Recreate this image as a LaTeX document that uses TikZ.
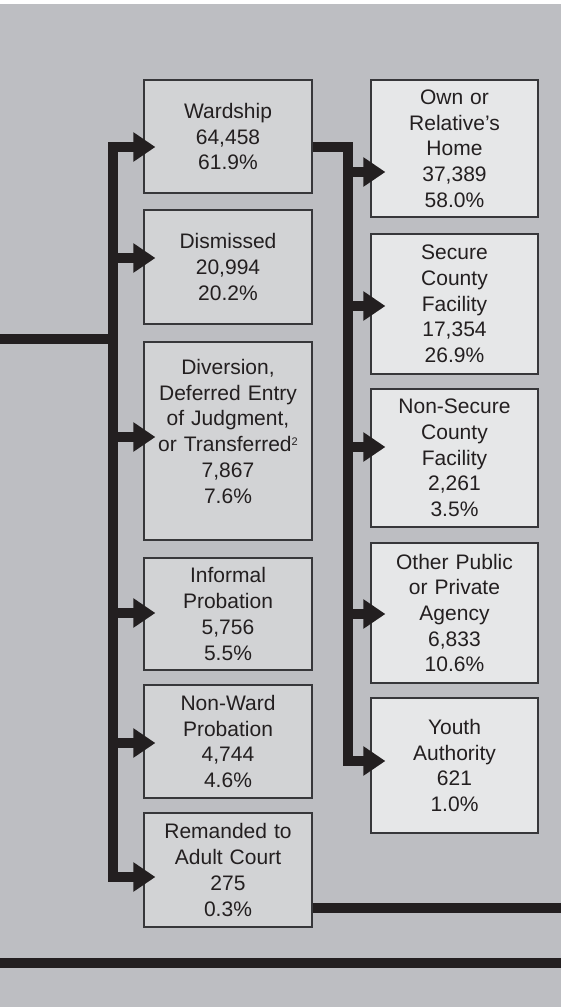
\documentclass[tikz,border=0pt]{standalone}
\usepackage{fontspec}
\setmainfont{Liberation Sans}
\usetikzlibrary{arrows.meta}
\definecolor{bggray}{RGB}{189,190,194}
\definecolor{boxgray}{RGB}{210,211,213}
\definecolor{boxlight}{RGB}{230,231,232}
\definecolor{inkblack}{RGB}{35,31,32}
\definecolor{rimgray}{RGB}{55,55,58}
\begin{document}
\begin{tikzpicture}[x=1pt, y=-1pt,
        outcome/.style={draw=rimgray, line width=1.2pt, fill=boxgray, text=inkblack, align=center,
            inner sep=0pt, text width=160pt, minimum width=168pt, font=\fontsize{21}{25.7}\selectfont},
        placement/.style={outcome, fill=boxlight, minimum width=167pt},
        bar/.style={draw=inkblack, line width=10.5pt},
        flow/.style={bar, -{Triangle[length=22pt, width=28pt]}}]
        \useasboundingbox (0,0) rectangle (561,1007);
        \fill[white] (0,0) rectangle (561,1007);
        \fill[bggray] (0,4) rectangle (561,1007);
        \node[outcome, minimum height=113pt] (ward) at (228,136.5) {Wardship\\64,458\\61.9\%};
        \node[outcome, minimum height=114pt] (dism) at (228,267) {Dismissed\\20,994\\20.2\%};
        \node[outcome, minimum height=198pt] (div) at (228,441) {Diversion,\\Deferred Entry\\of Judgment,\\or Transferred\raisebox{6pt}{\fontsize{11}{11}\selectfont 2}\\7,867\\7.6\%\\[-6pt]\mbox{}};
        \node[outcome, minimum height=112pt] (inf) at (228,614) {Informal\\Probation\\5,756\\5.5\%};
        \node[outcome, minimum height=113pt] (nonw) at (228,741.5) {Non-Ward\\Probation\\4,744\\4.6\%};
        \node[outcome, minimum height=114pt] (rem) at (228,870) {Remanded to\\Adult Court\\275\\0.3\%};
        \node[placement, minimum height=137pt] (home) at (454.5,148.5) {Own or\\Relative’s\\Home\\37,389\\58.0\%};
        \node[placement, minimum height=140pt] (sec) at (454.5,304) {Secure\\County\\Facility\\17,354\\26.9\%};
        \node[placement, minimum height=138pt] (nsec) at (454.5,458) {Non-Secure\\County\\Facility\\2,261\\3.5\%};
        \node[placement, minimum height=140pt] (oth) at (454.5,613) {Other Public\\or Private\\Agency\\6,833\\10.6\%};
        \node[placement, minimum height=135pt] (ya) at (454.5,765.5) {Youth\\Authority\\621\\1.0\%};
        \coordinate (inlet) at (0,339);
        \coordinate (split) at (113,339);
        \coordinate (fork) at (348,147);
        \coordinate (outlet) at (561,908);
        \coordinate (baseL) at (0,963);
        \coordinate (baseR) at (561,963);
        \coordinate (wardtip) at ([shift={(12,10.5)}]ward.west);
        \coordinate (dismtip) at ([shift={(12,-9)}]dism.west);
        \coordinate (divtip) at ([shift={(12,-4)}]div.west);
        \coordinate (inftip) at ([shift={(12,-1)}]inf.west);
        \coordinate (nonwtip) at ([shift={(12,1.5)}]nonw.west);
        \coordinate (remtip) at ([shift={(12,7)}]rem.west);
        \coordinate (hometip) at ([shift={(15,23.5)}]home.west);
        \coordinate (sectip) at ([shift={(15,2)}]sec.west);
        \coordinate (nsectip) at ([shift={(15,-11)}]nsec.west);
        \coordinate (othtip) at ([shift={(15,1)}]oth.west);
        \coordinate (yatip) at ([shift={(15,-4.5)}]ya.west);
        \coordinate (wardout) at ([shift={(0,10.5)}]ward.east);
        \coordinate (remout) at ([shift={(0,38)}]rem.east);
        \draw[bar] (inlet) -- (split);
        \draw[flow] (split) |- (wardtip);
        \draw[flow] (split) |- (remtip);
        \foreach \t in {dismtip, divtip, inftip, nonwtip}
            \draw[flow] (split |- \t) -- (\t);
        \draw[flow] (wardout) -| (fork |- yatip) -- (yatip);
        \foreach \t in {hometip, sectip, nsectip, othtip}
            \draw[flow] (fork |- \t) -- (\t);
        \draw[bar] (remout) -- (outlet);
        \draw[bar] (baseL) -- (baseR);
    \end{tikzpicture}
\end{document}
